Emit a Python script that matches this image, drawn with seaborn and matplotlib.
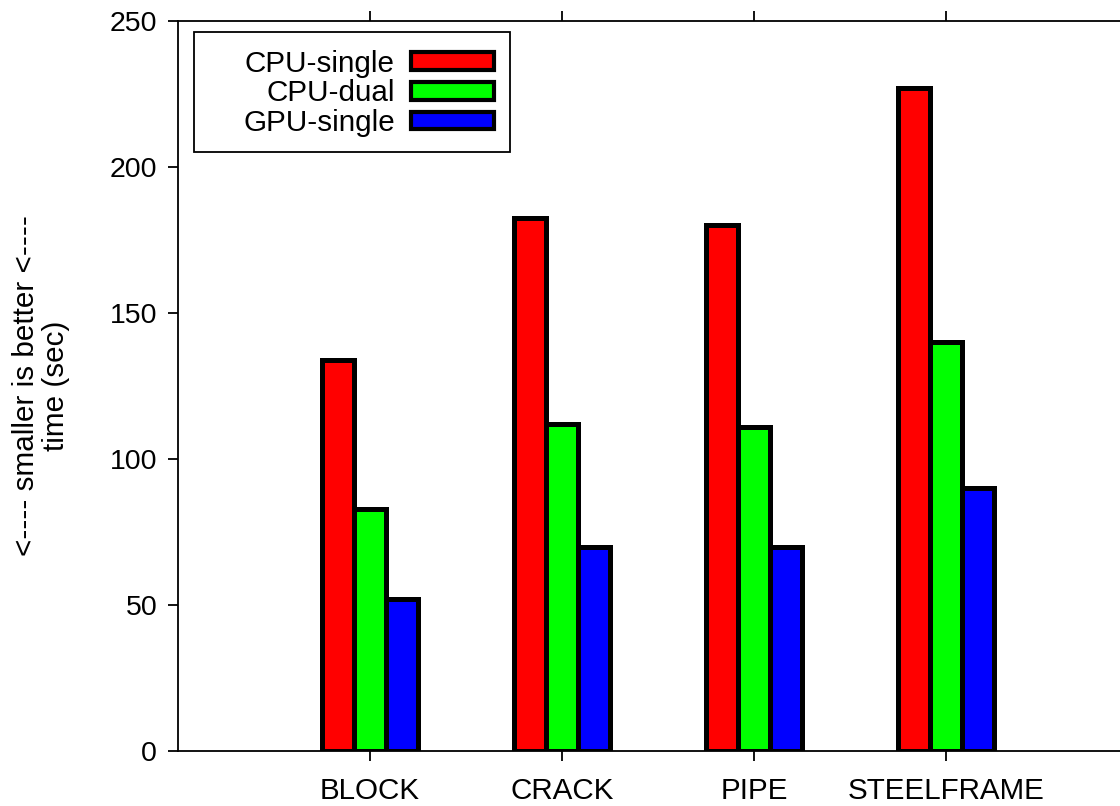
import matplotlib
matplotlib.use("Agg")
import matplotlib.pyplot as plt
from matplotlib.patches import Patch, Rectangle
import seaborn as sns
import pandas as pd

categories = ["BLOCK", "CRACK", "PIPE", "STEELFRAME"]
series = ["CPU-single", "CPU-dual", "GPU-single"]
cpu_single = [134, 182.5, 180, 227]
cpu_dual = [83, 112, 111, 140]
gpu_single = [52, 70, 70, 90]
colors = ["#ff0000", "#00ff00", "#0000ff"]
y_ticks = [0, 50, 100, 150, 200, 250]
y_label = "<---- smaller is better <----\ntime (sec)"

rows = []
for s, vals in zip(series, [cpu_single, cpu_dual, gpu_single]):
    for c, v in zip(categories, vals):
        rows.append({"category": c, "series": s, "time": v})
df = pd.DataFrame(rows)

sns.set_theme(style="ticks")
plt.rcParams["font.family"] = ["Liberation Sans", "DejaVu Sans"]
plt.rcParams["axes.edgecolor"] = "black"
plt.rcParams["xtick.color"] = "black"
plt.rcParams["ytick.color"] = "black"
plt.rcParams["text.color"] = "black"
plt.rcParams["axes.labelcolor"] = "black"

FS = 21.3
fig = plt.figure(figsize=(11.2, 8.06), dpi=100)
W, H = 1120, 806
ax = fig.add_axes([178 / W, (H - 751) / H, 960 / W, 730 / H])

sns.barplot(data=df, x="category", y="time", hue="series", order=categories,
            hue_order=series, palette=colors, saturation=1, width=0.5,
            edgecolor="black", linewidth=3.6, legend=False, ax=ax, zorder=3)

ax.set_xlim(-1, 4)
ax.set_ylim(0, 250)
ax.set_yticks(y_ticks)
ax.set_xlabel("")
ax.set_ylabel(y_label, fontsize=FS, linespacing=1.1)
ax.yaxis.set_label_coords(-0.1125, 0.5)

for sp in ax.spines.values():
    sp.set_visible(True)
    sp.set_linewidth(1.3)
    sp.set_color("black")

ax.tick_params(axis="x", which="both", bottom=True, top=True, direction="out",
               length=7, width=1.3, labelsize=FS, pad=12)
ax.tick_params(axis="y", left=True, right=False, direction="out",
               length=7, width=1.3, labelsize=20.5, pad=8)

# legend frame (gnuplot style, extra room on the left)
ax.add_patch(Rectangle((0.01667, 0.821), 0.3291, 0.164, transform=ax.transAxes,
                       facecolor="white", edgecolor="black", linewidth=1.3,
                       zorder=4))

handles = [Patch(facecolor=c, edgecolor="black", linewidth=3.0, label=s)
           for c, s in zip(colors, series)]
leg = ax.legend(handles=handles, loc="upper right",
                bbox_to_anchor=((494 - 178) / 960, (751 - 49.5) / 730),
                borderaxespad=0, borderpad=0, frameon=False,
                fontsize=FS, markerfirst=False, handlelength=2.8,
                handleheight=0.52, labelspacing=0.065, handletextpad=0.55)
leg.set_zorder(5)

fig.savefig("out.png", dpi=100)
